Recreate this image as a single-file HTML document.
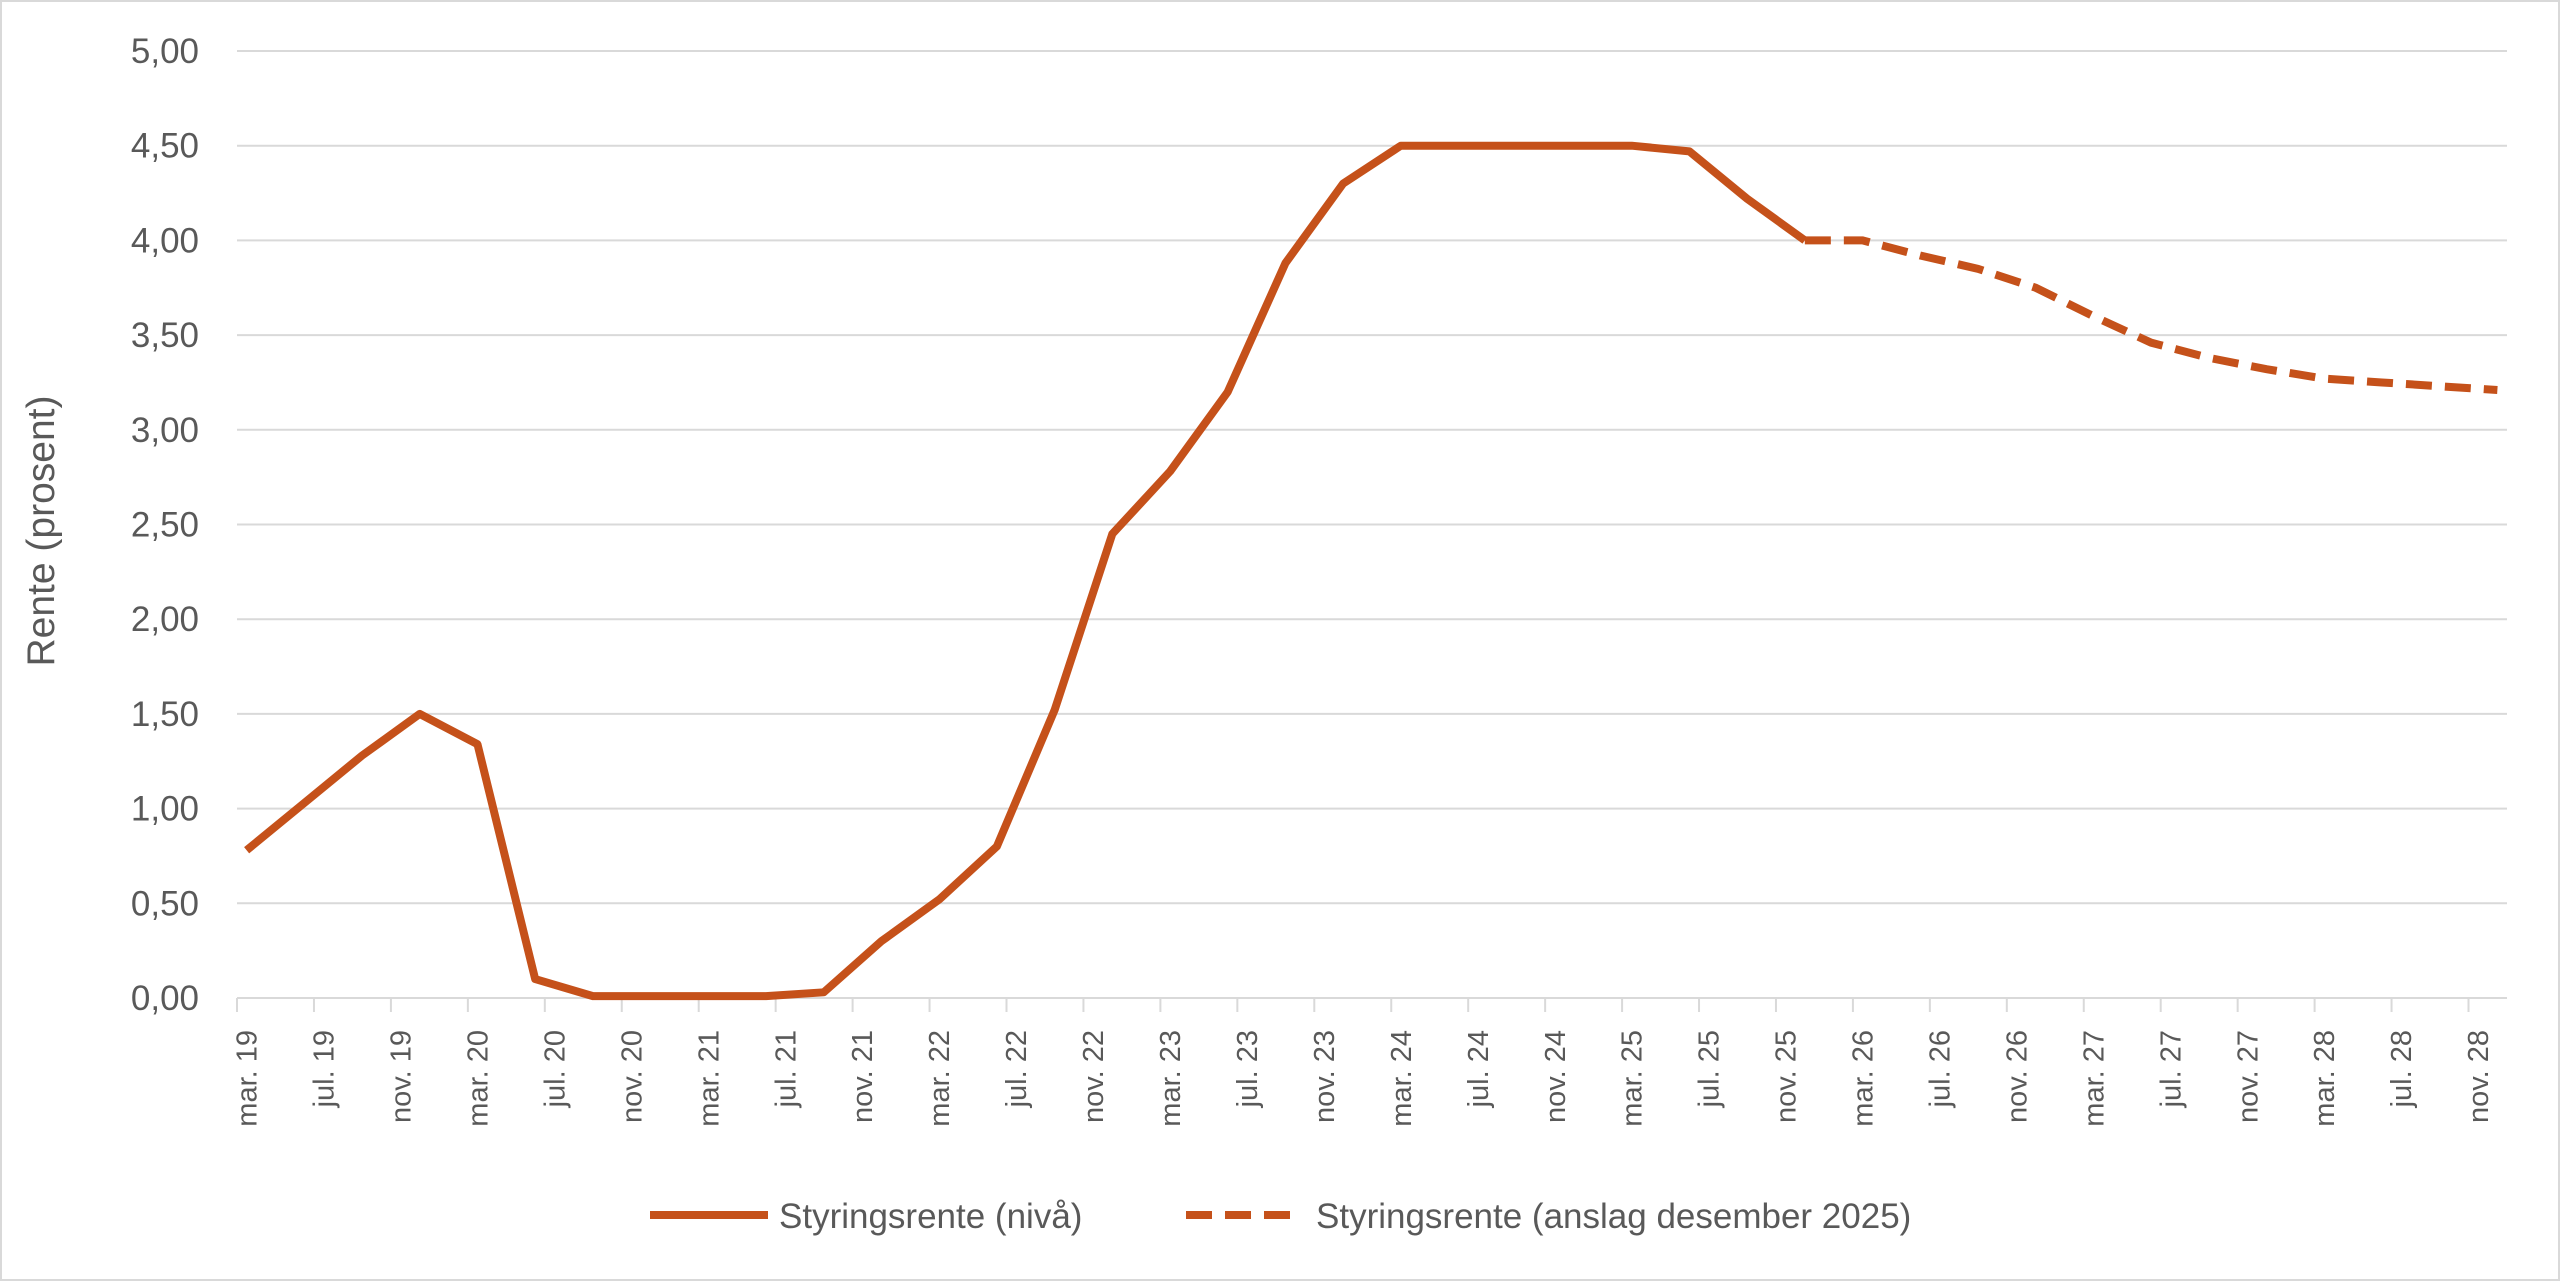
<!DOCTYPE html>
<html><head><meta charset="utf-8"><style>
body{margin:0;background:#fff}
svg{display:block;font-family:"Liberation Sans",sans-serif}
</style></head><body>
<svg id="chart" width="2560" height="1281" viewBox="0 0 2560 1281">
<rect x="1" y="1" width="2558" height="1279" fill="#fff" stroke="#d9d9d9" stroke-width="2"/>
<g id="grid"></g><g id="axes"></g><g id="series"></g>
<text transform="translate(54,531) rotate(-90)" text-anchor="middle" font-size="39" fill="#595959">Rente (prosent)</text>
<g>
<g>
<line x1="650" y1="1215" x2="768" y2="1215" stroke="#C5511A" stroke-width="8"/>
<text x="779" y="1228" font-size="35" fill="#595959">Styringsrente (nivå)</text></g>
<g>
<line x1="1186" y1="1215" x2="1292" y2="1215" stroke="#C5511A" stroke-width="8" stroke-dasharray="26,13"/>
<text x="1316" y="1228" font-size="35" fill="#595959">Styringsrente (anslag desember 2025)</text></g>
</g>
</svg>
<script>
const monthLabels=["mar.","jul.","nov."];
const yTicks=[0,0.5,1,1.5,2,2.5,3,3.5,4,4.5,5];
const levelValues=[0.78,1.03,1.28,1.5,1.34,0.1,0.01,0.01,0.01,0.01,0.03,0.3,0.52,0.8,1.52,2.45,2.78,3.2,3.88,4.3,4.5,4.5,4.5,4.5,4.5,4.47,4.22,4.0];
const forecastValues=[4.0,4.0,3.92,3.85,3.75,3.6,3.46,3.38,3.32,3.27,3.25,3.23,3.21];
const forecastStart=27;
const nMonths=118;
const X0=237,X1=2507,Y0=998,Y5=51;
const mw=(X1-X0)/nMonths;
const xm=m=>X0+mw*(m+0.5);
const y=v=>Y0+(Y5-Y0)*v/5;
const NS="http://www.w3.org/2000/svg";
function mk(t,a,p){const e=document.createElementNS(NS,t);for(const k in a)e.setAttribute(k,a[k]);p.appendChild(e);return e;}
const grid=document.getElementById('grid'),axes=document.getElementById('axes'),ser=document.getElementById('series');
yTicks.forEach(v=>{
 if(v>0){const l=mk('line',{x1:X0,x2:X1,y1:y(v),y2:y(v),stroke:'#d9d9d9','stroke-width':2},grid);
 
 }
 const t=mk('text',{x:199,y:y(v)+12,'text-anchor':'end','font-size':35,fill:'#595959'},axes);
 t.textContent=v.toFixed(2).replace('.',',');
 
 
});
const ax=mk('line',{x1:X0,x2:X1,y1:Y0,y2:Y0,stroke:'#d9d9d9','stroke-width':2},axes);


for(let m=0;m<nMonths;m+=4){
 const tx=X0+mw*m;
 const tk=mk('line',{x1:tx,x2:tx,y1:Y0,y2:Y0+14,stroke:'#d9d9d9','stroke-width':2},axes);
 
 
 const yr=19+Math.floor((m+2)/12);
 const lab=monthLabels[(m/4)%3]+" "+yr;
 const cx=xm(m)+10;
 const t=mk('text',{transform:`translate(${cx},1030) rotate(-90)`,'text-anchor':'end','font-size':29,fill:'#595959'},axes);
 t.textContent=lab;
 
 
}
const pts1=levelValues.map((v,k)=>xm(3*k)+','+y(v)).join(' ');
const p1=mk('polyline',{points:pts1,fill:'none',stroke:'#C5511A','stroke-width':8,'stroke-linejoin':'round'},ser);


const pts2=forecastValues.map((v,k)=>xm(3*(k+forecastStart))+','+y(v)).join(' ');
const p2=mk('polyline',{points:pts2,fill:'none',stroke:'#C5511A','stroke-width':8,'stroke-dasharray':'26,13'},ser);


</script>
</body></html>
